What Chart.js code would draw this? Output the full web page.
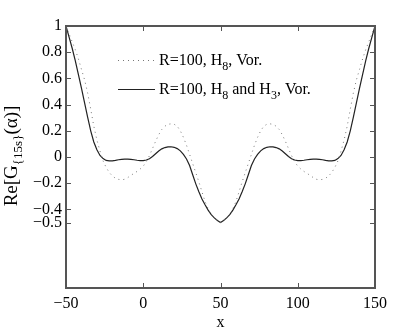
<!DOCTYPE html>
<html>
<head>
<meta charset="utf-8">
<script src="https://cdn.jsdelivr.net/npm/chart.js@4.4.0/dist/chart.umd.min.js"></script>
<style>
  body { margin: 0; background: #fff; }
  #wrap { width: 399px; height: 333px; }
</style>
</head>
<body>
<div id="wrap"><canvas id="mycanvas" width="399" height="333"></canvas></div>
<script>
// x positions shared by both curves
var xValues = [
  -50,-48,-46,-44,-42,-40,-38,-36,-34,-32,-30,-28,-26,-24,-22,-20,-18,-16,-14,-12,
  -10,-8,-6,-4,-2,0,2,4,6,8,10,12,14,16,18,20,22,24,26,28,
  30,32,34,36,38,40,42,44,46,48,50,52,54,56,58,60,62,64,66,68,
  70,72,74,76,78,80,82,84,86,88,90,92,94,96,98,100,102,104,106,108,
  110,112,114,116,118,120,122,124,126,128,130,132,134,136,138,140,142,144,146,148,150
];

// R=100, H8, Vor. (dotted)
var dottedValues = [
  1.000,0.940,0.880,0.820,0.750,0.670,0.590,0.490,0.365,0.235,0.130,0.045,-0.030,-0.080,-0.118,-0.145,-0.162,-0.171,-0.174,-0.170,
  -0.157,-0.140,-0.125,-0.110,-0.092,-0.070,-0.035,0.010,0.065,0.120,0.170,0.210,0.235,0.250,0.253,0.250,0.235,0.200,0.150,0.090,
  0.020,-0.050,-0.120,-0.190,-0.265,-0.340,-0.395,-0.440,-0.465,-0.485,-0.500,-0.485,-0.465,-0.440,-0.395,-0.340,-0.265,-0.190,-0.120,-0.050,
  0.020,0.090,0.150,0.200,0.235,0.250,0.253,0.250,0.235,0.210,0.170,0.120,0.065,0.010,-0.035,-0.070,-0.092,-0.110,-0.125,-0.140,
  -0.157,-0.170,-0.174,-0.171,-0.162,-0.145,-0.118,-0.080,-0.030,0.045,0.130,0.235,0.365,0.490,0.590,0.670,0.750,0.820,0.880,0.940,1.000
];

// R=100, H8 and H3, Vor. (solid)
var solidValues = [
  1.000,0.915,0.830,0.735,0.630,0.525,0.415,0.305,0.200,0.115,0.055,0.012,-0.012,-0.026,-0.030,-0.030,-0.026,-0.021,-0.018,-0.016,
  -0.016,-0.018,-0.021,-0.025,-0.027,-0.027,-0.023,-0.013,0.004,0.025,0.046,0.062,0.072,0.077,0.078,0.074,0.064,0.047,0.020,-0.015,
  -0.065,-0.135,-0.205,-0.265,-0.320,-0.365,-0.405,-0.440,-0.465,-0.485,-0.500,-0.485,-0.465,-0.440,-0.405,-0.365,-0.320,-0.265,-0.205,-0.135,
  -0.065,-0.015,0.020,0.047,0.064,0.074,0.078,0.077,0.072,0.062,0.046,0.025,0.004,-0.013,-0.023,-0.027,-0.027,-0.025,-0.021,-0.018,
  -0.016,-0.016,-0.018,-0.021,-0.026,-0.030,-0.030,-0.026,-0.012,0.012,0.055,0.115,0.200,0.305,0.415,0.525,0.630,0.735,0.830,0.915,1.000
];

// tick labels
var xTickValues = [-50, 0, 50, 100, 150];
var yTickValues = [-0.5, -0.4, -0.2, 0, 0.2, 0.4, 0.6, 0.8, 1];

var serif = '"Liberation Serif", "DejaVu Serif", serif';

function toPoints(xs, ys) {
  var pts = [];
  for (var i = 0; i < xs.length; i++) pts.push({ x: xs[i], y: ys[i] });
  return pts;
}

// draw text pieces: [text, size, baselineShift]
function drawPieces(ctx, pieces, x, y) {
  for (var i = 0; i < pieces.length; i++) {
    ctx.font = pieces[i][1] + 'px ' + serif;
    ctx.fillText(pieces[i][0], x, y + pieces[i][2]);
    x += ctx.measureText(pieces[i][0]).width;
  }
  return x;
}
function piecesWidth(ctx, pieces) {
  var w = 0;
  for (var i = 0; i < pieces.length; i++) {
    ctx.font = pieces[i][1] + 'px ' + serif;
    w += ctx.measureText(pieces[i][0]).width;
  }
  return w;
}

// box, inward ticks, titles and legend (matlab style)
var decorPlugin = {
  id: 'decor',
  afterDraw: function(chart) {
    var ctx = chart.ctx, a = chart.chartArea;
    var xs = chart.scales.x, ys = chart.scales.y;
    var L = Math.round(a.left), R = Math.round(a.right);
    var T = Math.round(a.top), B = Math.round(a.bottom);
    ctx.save();
    // box
    ctx.strokeStyle = '#555';
    ctx.lineWidth = 2;
    ctx.strokeRect(L, T, R - L, B - T);
    // inward ticks
    ctx.fillStyle = '#555';
    xTickValues.forEach(function(v) {
      var px = Math.round(xs.getPixelForValue(v));
      ctx.fillRect(px, B - 5, 1, 4);
      ctx.fillRect(px, T + 1, 1, 4);
    });
    yTickValues.forEach(function(v) {
      var py = Math.round(ys.getPixelForValue(v));
      ctx.fillRect(L + 1, py, 4, 1);
      ctx.fillRect(R - 5, py, 4, 1);
    });

    ctx.fillStyle = '#000';
    ctx.textBaseline = 'alphabetic';
    ctx.textAlign = 'left';

    // x title
    ctx.font = '16px ' + serif;
    var xw = ctx.measureText('x').width;
    ctx.fillText('x', (a.left + a.right) / 2 - xw / 2, 327);

    // y title, rotated
    var yt = [['Re[G', 19, 0], ['{15s}', 13, 5], ['(\u03b1)]', 19, 0]];
    var tw = piecesWidth(ctx, yt);
    ctx.save();
    ctx.translate(17, 156);
    ctx.rotate(-Math.PI / 2);
    drawPieces(ctx, yt, -tw / 2, 0);
    ctx.restore();

    // legend
    ctx.strokeStyle = '#777';
    ctx.lineWidth = 1;
    ctx.setLineDash([1, 4]);
    ctx.beginPath(); ctx.moveTo(118, 60.5); ctx.lineTo(154, 60.5); ctx.stroke();
    ctx.setLineDash([]);
    ctx.strokeStyle = '#222';
    ctx.lineWidth = 1.2;
    ctx.beginPath(); ctx.moveTo(118, 89.5); ctx.lineTo(155, 89.5); ctx.stroke();
    drawPieces(ctx, [['R=100, H', 16, 0], ['8', 12, 5], [', Vor.', 16, 0]], 159, 64.5);
    drawPieces(ctx, [['R=100, H', 16, 0], ['8', 12, 5], [' and H', 16, 0], ['3', 12, 5], [', Vor.', 16, 0]], 159, 93.5);
    ctx.restore();
  }
};

var noGrid = { display: false, drawTicks: false, tickLength: 0 };

var ctx = document.getElementById('mycanvas');
var lineGraph = new Chart(ctx, {
  type: 'scatter',
  data: {
    datasets: [
      {
        label: 'R=100, H8, Vor.',
        data: toPoints(xValues, dottedValues),
        showLine: true,
        borderColor: '#777',
        borderWidth: 1,
        borderDash: [1, 4],
        pointRadius: 0,
        tension: 0,
        fill: false
      },
      {
        label: 'R=100, H8 and H3, Vor.',
        data: toPoints(xValues, solidValues),
        showLine: true,
        borderColor: '#222',
        borderWidth: 1.2,
        pointRadius: 0,
        tension: 0,
        fill: false
      }
    ]
  },
  options: {
    responsive: false,
    animation: false,
    layout: { padding: { top: 26, right: 24, left: 0, bottom: 0 } },
    plugins: {
      legend: { display: false },
      tooltip: { enabled: false }
    },
    scales: {
      x: {
        type: 'linear',
        min: -50,
        max: 150,
        grid: noGrid,
        border: { display: false },
        afterBuildTicks: function(scale) {
          scale.ticks = xTickValues.map(function(v) { return { value: v }; });
        },
        afterFit: function(scale) { scale.height = 45; },
        ticks: {
          padding: 6,
          color: '#000',
          font: { family: serif, size: 16 },
          maxRotation: 0,
          callback: function(v) { return String(v).replace('-', '\u2212'); }
        }
      },
      y: {
        min: -1,
        max: 1,
        grid: noGrid,
        border: { display: false },
        afterBuildTicks: function(scale) {
          scale.ticks = yTickValues.map(function(v) { return { value: v }; });
        },
        afterFit: function(scale) { scale.width = 66; },
        ticks: {
          padding: 4,
          color: '#000',
          font: { family: serif, size: 16 },
          callback: function(v) { return String(v).replace('-', '\u2212'); }
        }
      }
    }
  },
  plugins: [decorPlugin]
});
</script>
</body>
</html>
